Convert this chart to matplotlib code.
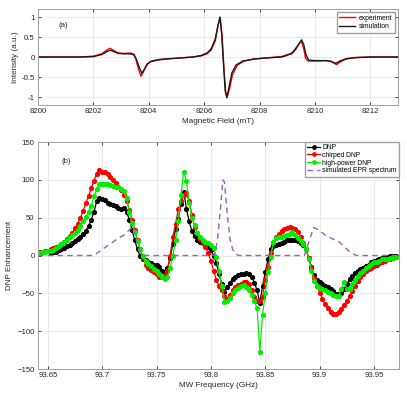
import numpy as np
import matplotlib
matplotlib.use("Agg")
import matplotlib.pyplot as plt
from matplotlib.ticker import FormatStrFormatter

plt.rcParams['font.family'] = ['Liberation Sans', 'DejaVu Sans']

# ---- panel (a): EPR spectra, field in mT ----
sim_field = [8200, 8201.5, 8202.0, 8202.3, 8202.5, 8202.62, 8202.75, 8202.9, 8203.1, 8203.3,
             8203.45, 8203.55, 8203.65, 8203.75, 8203.85, 8203.95, 8204.1, 8204.4, 8204.8, 8205.2,
             8205.6, 8205.9, 8206.1, 8206.25, 8206.4, 8206.5, 8206.57, 8206.63, 8206.7, 8206.76,
             8206.82, 8206.9, 8207.0, 8207.15, 8207.4, 8207.8, 8208.3, 8208.8, 8209.0, 8209.2,
             8209.4, 8209.52, 8209.6, 8209.68, 8209.78, 8210.0, 8210.4, 8210.6, 8210.75, 8210.9,
             8211.1, 8211.4, 8212.0, 8213.0]
sim_int = [0, 0, 0.01, 0.06, 0.14, 0.17, 0.13, 0.09, 0.08, 0.08,
           0.06, -0.05, -0.25, -0.41, -0.3, -0.17, -0.1, -0.06, -0.04, -0.02,
           0.0, 0.04, 0.1, 0.2, 0.45, 0.8, 1.0, 0.6, -0.2, -0.85,
           -1.02, -0.75, -0.4, -0.2, -0.1, -0.05, -0.02, 0.0, 0.04, 0.12,
           0.3, 0.43, 0.3, 0.05, -0.08, -0.09, -0.09, -0.11, -0.16, -0.1,
           -0.05, -0.02, 0.0, 0.0]

exp_field = [8200, 8201.5, 8202.0, 8202.3, 8202.5, 8202.6, 8202.72, 8202.9, 8203.1, 8203.35,
             8203.48, 8203.55, 8203.65, 8203.72, 8203.8, 8203.9, 8204.05, 8204.4, 8204.8, 8205.2,
             8205.6, 8205.9, 8206.1, 8206.25, 8206.4, 8206.5, 8206.58, 8206.65, 8206.72, 8206.78,
             8206.84, 8206.92, 8207.02, 8207.2, 8207.45, 8207.8, 8208.3, 8208.8, 8209.0, 8209.15,
             8209.3, 8209.45, 8209.52, 8209.6, 8209.66, 8209.75, 8210.0, 8210.4, 8210.6, 8210.78,
             8210.95, 8211.15, 8211.5, 8212.0, 8213.0]
exp_int = [0.0, 0.0, 0.02, 0.08, 0.18, 0.22, 0.17, 0.1, 0.09, 0.1,
           0.06, -0.1, -0.35, -0.48, -0.38, -0.22, -0.12, -0.07, -0.04, -0.02,
           0.0, 0.03, 0.08, 0.17, 0.4, 0.78, 0.98, 0.5, -0.35, -0.9,
           -0.98, -0.78, -0.45, -0.2, -0.1, -0.05, -0.02, 0.01, 0.06, 0.07,
           0.18, 0.36, 0.38, 0.2, -0.03, -0.1, -0.1, -0.09, -0.12, -0.19,
           -0.11, -0.04, -0.01, 0.0, 0.0]

# ---- panel (b): DNP enhancement vs MW frequency (GHz), 2.5 MHz steps ----
step = 0.0025
red_start = 93.6425
chirped_dnp = [4, 5, 5.5, 6.5, 8, 9.5, 11, 13, 15.5, 18.5,
               22, 26, 30, 36, 42, 50, 59, 69, 79, 89,
               99, 108, 113, 111, 110, 108, 104, 100, 96, 91,
               87, 80, 72, 60, 47, 34, 20, 8, -3, -12,
               -17, -19, -22, -25, -28, -29, -26, -20, 0, 25,
               42, 61, 72, 80, 82, 72, 54, 38, 30, 22,
               17, 11, 3, -7, -20, -32, -40, -46, -53, -57,
               -52, -46, -42, -39, -37, -35, -35, -38, -46, -55,
               -60, -60, -55, -32, -15, 3, 17, 24, 28, 33,
               35, 37, 38, 37, 35, 31, 25, 17, 8, -3,
               -17, -30, -40, -49, -57, -64, -70, -75, -77, -77,
               -75, -71, -66, -60, -54, -47, -40, -34, -29, -24,
               -21, -18, -16, -14, -12, -10, -8, -7, -5, -4,
               -3, -2]

green_start = 93.6425
highpower_dnp = [3.5, 4, 5, 5.5, 6.5, 7.5, 10, 12.5, 15, 18,
                 21, 24, 27, 30, 34, 39, 45, 51, 58, 66,
                 78, 88, 94, 95, 95, 95, 93, 92, 91, 90,
                 88, 85, 76, 58, 43, 31, 19, 8, -1, -7,
                 -11, -14, -18, -20, -24, -28, -31, -28, -16, 0,
                 20, 45, 80, 111, 98, 70, 50, 40, 30, 24,
                 20, 18, 16, 14, 10, -2, -20, -40, -61, -60,
                 -56, -50, -46, -43, -40, -39, -41, -45, -52, -60,
                 -70, -127, -78, -50, -22, -2, 18, 23, 25, 25,
                 26, 27, 29, 31, 27, 23, 19, 15, 8, -4,
                 -20, -34, -40, -43, -44, -46, -48, -50, -52, -54,
                 -53, -44, -35, -44, -44, -38, -32, -27, -23, -20,
                 -17, -14, -11, -9, -8, -7, -5, -4, -4, -3,
                 -3, -2]

black_start = 93.6525
plain_dnp = [3, 4, 5, 7, 8.5, 10, 12, 14.5, 17, 19.5,
             22, 25, 29, 33, 39, 47, 58, 72, 76, 75,
             74, 70, 68, 67, 66, 63, 62, 63, 58, 47,
             34, 20, 8, -1, -4, -6, -8, -10, -12, -13,
             -15, -21, -22, -17, -3, 15, 35, 48, 68, 84,
             62, 45, 32, 26, 21, 18, 16, 15, 11, 7,
             0, -10, -25, -38, -48, -42, -36, -31, -28, -26,
             -25, -24, -23, -24, -28, -36, -46, -63, -40, -22,
             -5, 8, 12, 14, 15, 17, 18, 20, 21, 21,
             20, 19, 17, 14, 8, -3, -15, -26, -32, -35,
             -37, -40, -42, -44, -47, -51, -51, -49, -44, -38,
             -31, -27, -23, -20, -18, -16, -14, -12, -9, -7,
             -6, -5, -3, -2, -1.5, -1, -1, -0.5]

epr_freq = [93.641, 93.6925, 93.698, 93.706, 93.715, 93.72, 93.7245, 93.728, 93.732, 93.735,
            93.738, 93.803, 93.806, 93.809, 93.811, 93.8125, 93.815, 93.8175, 93.82, 93.8225,
            93.826, 93.886, 93.8945, 93.9, 93.906, 93.912, 93.918, 93.924, 93.929, 93.934, 93.973]
epr_sim = [0, 0, 6, 14, 23, 27, 33, 38, 18, 3,
           0, 0, 20, 65, 100, 97, 55, 22, 8, 2,
           0, 0, 37, 33, 26, 22, 18, 10, 3, 0, 0]


def freq_axis(start, n):
    return np.round(start + step * np.arange(n), 4)


grid_c = '#e6e6e6'
edge_c = '#a0a0a0'
text_c = '#262626'
tick_fs = 5.6
label_fs = 5.9
leg_fs = 4.9

fig = plt.figure(figsize=(4.07, 3.97), dpi=100)

# panel (a)
ax1 = fig.add_axes([0.0934, 0.7355, 0.8845, 0.2418])
ax1.plot(exp_field, exp_int, color='#ff0000', lw=1.0, label='experiment')
ax1.plot(sim_field, sim_int, color='#1a1a1a', lw=1.0, label='simulation')
ax1.set_xlim(8200, 8213)
ax1.set_ylim(-1.2, 1.2)
ax1.set_xticks(np.arange(8200, 8213, 2))
ax1.set_yticks([-1, -0.5, 0, 0.5, 1])
ax1.yaxis.set_major_formatter(FormatStrFormatter('%g'))
ax1.set_xlabel('Magnetic Field (mT)', fontsize=label_fs, color=text_c, labelpad=2)
ax1.set_ylabel('Intensity (a.u.)', fontsize=label_fs, color=text_c, labelpad=2)
ax1.text(0.056, 0.83, '(a)', transform=ax1.transAxes, fontsize=tick_fs, color=text_c, va='center')
ax1.legend(loc='upper right', fontsize=leg_fs, handlelength=2.4, borderpad=0.35,
           labelspacing=0.25, handletextpad=0.5, fancybox=False, framealpha=1,
           edgecolor=edge_c, borderaxespad=0.5)

# panel (b)
ax2 = fig.add_axes([0.0934, 0.0705, 0.887, 0.5718])
ax2.plot(freq_axis(black_start, len(plain_dnp)), plain_dnp, '-o', color='black',
         lw=0.9, ms=2.7, label='DNP')
ax2.plot(freq_axis(red_start, len(chirped_dnp)), chirped_dnp, '-o', color='#ff0000',
         lw=0.9, ms=2.7, label='chirped DNP')
ax2.plot(freq_axis(green_start, len(highpower_dnp)), highpower_dnp, '-o', color='#00ee00',
         lw=0.9, ms=2.7, label='high-power DNP')
ax2.plot(epr_freq, epr_sim, '--', color='#9a62b5', lw=1.0, dashes=(4, 3),
         label='simulated EPR spectrum')
ax2.set_xlim(93.641, 93.973)
ax2.set_ylim(-150, 150)
ax2.set_xticks([93.65, 93.7, 93.75, 93.8, 93.85, 93.9, 93.95])
ax2.set_yticks(np.arange(-150, 151, 50))
ax2.xaxis.set_major_formatter(FormatStrFormatter('%g'))
ax2.set_xlabel('MW Frequency (GHz)', fontsize=label_fs, color=text_c, labelpad=2)
ax2.set_ylabel('DNP Enhancement', fontsize=label_fs, color=text_c, labelpad=3)
ax2.text(0.066, 0.916, '(b)', transform=ax2.transAxes, fontsize=tick_fs, color=text_c, va='center')
ax2.legend(loc='upper right', fontsize=leg_fs, handlelength=2.0, borderpad=0.3,
           labelspacing=0.12, handletextpad=0.3, fancybox=False, framealpha=1,
           edgecolor=edge_c, borderaxespad=0.0, markerscale=0.9)

for ax in (ax1, ax2):
    ax.grid(True, color=grid_c, lw=0.6)
    ax.set_axisbelow(True)
    ax.tick_params(direction='in', length=2.5, width=0.6, labelsize=tick_fs,
                   colors=text_c, top=True, right=True, pad=2.5)
    for s in ax.spines.values():
        s.set_color(edge_c)
        s.set_linewidth(0.7)

fig.savefig('out.png', dpi=100)
